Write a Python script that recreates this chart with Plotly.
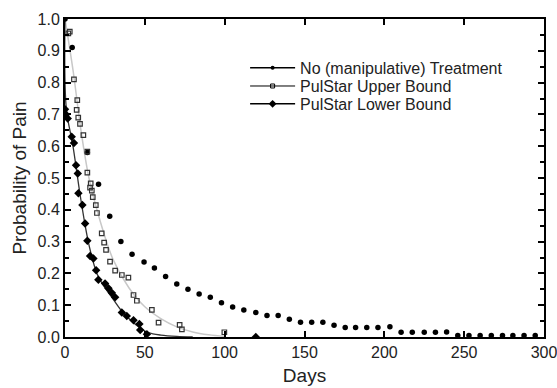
import plotly.graph_objects as go

# No (manipulative) Treatment: weekly observations (big dots)
none_days = [0, 4.5, 14, 21, 28, 35, 42, 49.5, 56, 63, 70, 77, 84, 91, 98, 105, 112, 119.5,
             126.5, 133.5, 140.5, 147.5, 154.5, 161.5, 168.5, 175.5, 182, 189, 196, 203.5,
             210.5, 217.5, 225, 232, 239, 246, 253, 260, 267, 274, 280.5, 287.5, 294.5]
none_prob = [1.0, 0.91, 0.58, 0.48, 0.38, 0.30, 0.26, 0.236, 0.217, 0.19, 0.167, 0.15, 0.135,
             0.125, 0.108, 0.094, 0.085, 0.077, 0.068, 0.068, 0.056, 0.046, 0.046, 0.046,
             0.037, 0.03, 0.03, 0.03, 0.03, 0.032, 0.015, 0.015, 0.015, 0.015, 0.016,
             0.005, 0.005, 0.005, 0.005, 0.005, 0.005, 0.005, 0.005]

# PulStar Upper Bound (open squares)
upper_days = [2.1, 3.0, 5.6, 7.3, 7.7, 8.3, 9.4, 11.5, 14, 14, 15.7, 16.1, 16.8, 17.4, 19.3, 20,
              23, 24.5, 25.7, 28.2, 31.4, 35.6, 39.7, 42.9, 45, 54.4, 58.6, 71.8, 73.2, 99.8]
upper_prob = [0.955, 0.96, 0.81, 0.714, 0.745, 0.69, 0.67, 0.635, 0.583, 0.517, 0.47, 0.483,
              0.46, 0.44, 0.415, 0.39, 0.326, 0.297, 0.274, 0.237, 0.209, 0.195, 0.187, 0.132,
              0.114, 0.085, 0.045, 0.038, 0.024, 0.015]

# PulStar Lower Bound (filled diamonds)
lower_days = [0, 0.6, 1.7, 4.2, 5.6, 6.9, 8, 8.4, 10.9, 12.6, 14, 15.7, 17.8, 19.5, 20.9, 25.1,
              27.2, 29.3, 31.4, 35.6, 38.7, 42.9, 46.6, 47.1, 51.3, 119.5]
lower_prob = [0.716, 0.70, 0.687, 0.63, 0.61, 0.54, 0.514, 0.452, 0.415, 0.357, 0.303, 0.255,
              0.247, 0.21, 0.18, 0.168, 0.153, 0.139, 0.125, 0.077, 0.066, 0.053, 0.041, 0.022,
              0.009, 0.0]

# fitted curves
fit_upper_days = [0, 5, 10, 15, 20, 30, 40, 50, 60, 70, 80, 90, 100]
fit_upper_prob = [1.0, 0.84, 0.65, 0.50, 0.40, 0.245, 0.155, 0.095, 0.058, 0.032, 0.016, 0.007, 0.002]
fit_lower_days = [0, 0.8, 5, 10, 15, 20, 25, 30, 35, 40, 45, 50, 55, 60, 70, 80]
fit_lower_prob = [1.0, 0.72, 0.60, 0.43, 0.29, 0.20, 0.155, 0.12, 0.085, 0.058, 0.036, 0.019,
                  0.010, 0.006, 0.002, 0.0]

names = ["No (manipulative) Treatment", "PulStar Upper Bound", "PulStar Lower Bound"]

FONT = "Liberation Sans, Arial, Helvetica"
fig = go.Figure()
fig.add_trace(go.Scatter(x=fit_upper_days, y=fit_upper_prob, mode="lines", line=dict(color="#c8c8c8", width=1.5, shape="spline"), showlegend=False, hoverinfo="skip"))
fig.add_trace(go.Scatter(x=fit_lower_days, y=fit_lower_prob, mode="lines", line=dict(color="#333", width=1.3, shape="spline"), showlegend=False, hoverinfo="skip"))
fig.add_trace(go.Scatter(x=none_days, y=none_prob, mode="markers", marker=dict(color="black", size=5.5), showlegend=False))
fig.add_trace(go.Scatter(x=upper_days, y=upper_prob, mode="markers", marker=dict(symbol="square-open", color="#333", size=4.5, line=dict(width=1.2)), showlegend=False))
fig.add_trace(go.Scatter(x=lower_days, y=lower_prob, mode="markers", marker=dict(symbol="diamond", color="black", size=6.5), showlegend=False))

# legend entries (one legend per row to control spacing)
fig.add_trace(go.Scatter(x=[None], y=[None], mode="lines+markers", name=names[0], legend="legend",
                         line=dict(color="black", width=1.5), marker=dict(color="black", size=4)))
fig.add_trace(go.Scatter(x=[None], y=[None], mode="lines+markers", name=names[1], legend="legend2",
                         line=dict(color="black", width=1), marker=dict(symbol="square-open", color="black", size=4)))
fig.add_trace(go.Scatter(x=[None], y=[None], mode="lines+markers", name=names[2], legend="legend3",
                         line=dict(color="black", width=1.5), marker=dict(symbol="diamond", color="black", size=6)))

axis_common = dict(showline=True, linecolor="black", linewidth=2, mirror="ticks", ticks="inside",
                   ticklen=6, tickwidth=1.5, tickcolor="black", showgrid=False, zeroline=False,
                   automargin=False, ticklabeloverflow="allow",
                   tickfont=dict(family=FONT, size=16, color="#222"))
leg = dict(x=0.376, xanchor="left", yanchor="middle", bgcolor="rgba(0,0,0,0)",
           font=dict(family=FONT, size=16, color="#222"), itemwidth=45)
fig.update_layout(
    width=557, height=388, plot_bgcolor="white", paper_bgcolor="white",
    margin=dict(l=65, r=13, t=19, b=51),
    font=dict(family=FONT, size=16, color="#222"),
    xaxis=dict(range=[0, 300], dtick=50, title=dict(text="Days", standoff=8), **axis_common),
    yaxis=dict(range=[0, 1.0], dtick=0.1, tickformat=".1f", title=dict(text="Probability of Pain", standoff=6),
               minor=dict(ticks="inside", ticklen=4, dtick=0.05, tickcolor="black"), **axis_common),
    legend=dict(y=0.846, **leg),
    legend2=dict(y=0.789, **leg),
    legend3=dict(y=0.733, **leg),
    showlegend=True,
)
fig.write_html("out.html")
